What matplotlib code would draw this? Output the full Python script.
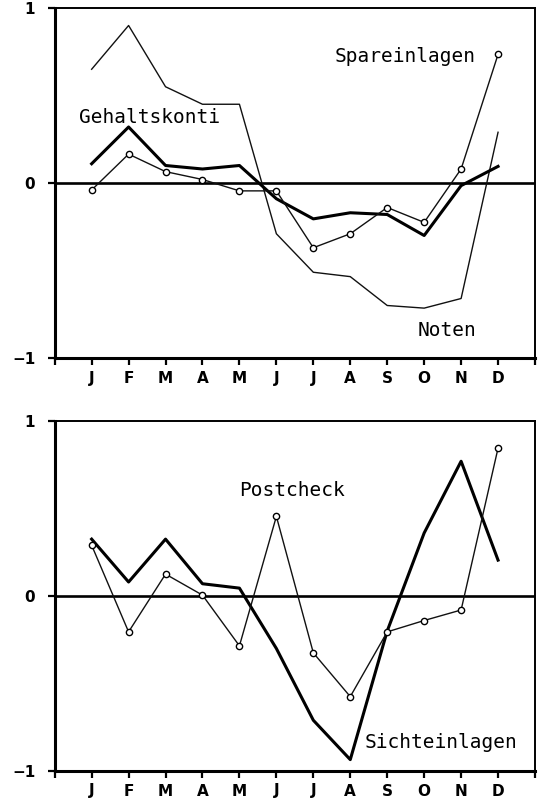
import matplotlib
matplotlib.use("Agg")
import matplotlib.pyplot as plt

# Monthly indicator values
months = ["J", "F", "M", "A", "M", "J", "J", "A", "S", "O", "N", "D"]

noten = [0.65, 0.90, 0.55, 0.45, 0.45, -0.29, -0.51, -0.535, -0.70, -0.715, -0.66, 0.29]
gehaltskonti = [0.11, 0.32, 0.10, 0.08, 0.10, -0.09, -0.205, -0.17, -0.18, -0.30, -0.015, 0.095]
spareinlagen = [-0.04, 0.165, 0.065, 0.02, -0.045, -0.045, -0.37, -0.29, -0.14, -0.225, 0.08, 0.735]

sichteinlagen = [0.325, 0.08, 0.325, 0.07, 0.045, -0.30, -0.71, -0.935, -0.20, 0.36, 0.77, 0.205]
postcheck = [0.29, -0.205, 0.125, 0.005, -0.285, 0.455, -0.325, -0.575, -0.205, -0.14, -0.08, 0.845]

x = list(range(1, 13))

W, H = 539, 802
fig = plt.figure(figsize=(W / 100, H / 100), dpi=100)

mono = "DejaVu Sans Mono"
thick = 2.2
thin = 1.0


def make_axes(top_px, bottom_px):
    left_px, right_px = 54.7, 535
    ax = fig.add_axes([left_px / W, 1 - bottom_px / H,
                       (right_px - left_px) / W, (bottom_px - top_px) / H])
    ax.set_xlim(0, 13)
    ax.set_ylim(-1, 1)
    ax.axhline(0, color="black", lw=1.9, zorder=1)
    ax.set_xticks(range(0, 14))
    ax.set_xticklabels([""] + months + [""], fontsize=11, fontweight="bold")
    ax.set_yticks([-1, 0, 1])
    ax.set_yticklabels(["\u22121", "0", "1"], fontsize=11, fontweight="bold")
    ax.tick_params(axis="x", direction="out", length=5, width=1.6, pad=4)
    ax.tick_params(axis="y", direction="out", length=5, width=1.6, pad=9)
    ax.spines["left"].set_linewidth(2.2)
    ax.spines["bottom"].set_linewidth(2.2)
    ax.spines["top"].set_linewidth(1.4)
    ax.spines["right"].set_linewidth(1.4)
    return ax


# Upper panel: Noten, Gehaltskonti, Spareinlagen
ax1 = make_axes(8, 358)
ax1.plot(x, noten, color="#111111", lw=thin, zorder=3)
ax1.plot(x, gehaltskonti, color="black", lw=thick, zorder=3)
ax1.plot(x, spareinlagen, color="#111111", lw=thin, marker="o", ms=4.5,
         mfc="white", mec="black", mew=1.0, zorder=4)
ax1.text(0.66, 0.375, "Gehaltskonti", fontsize=14, family=mono, va="center", ha="left")
ax1.text(7.58, 0.725, "Spareinlagen", fontsize=14, family=mono, va="center", ha="left")
ax1.text(9.81, -0.84, "Noten", fontsize=14, family=mono, va="center", ha="left")

# Lower panel: Sichteinlagen, Postcheck
ax2 = make_axes(421, 771)
ax2.plot(x, sichteinlagen, color="black", lw=thick, zorder=3)
ax2.plot(x, postcheck, color="#111111", lw=thin, marker="o", ms=4.5,
         mfc="white", mec="black", mew=1.0, zorder=4)
ax2.text(4.98, 0.605, "Postcheck", fontsize=14, family=mono, va="center", ha="left")
ax2.text(8.39, -0.84, "Sichteinlagen", fontsize=14, family=mono, va="center", ha="left")

fig.savefig("out.png", dpi=100)
